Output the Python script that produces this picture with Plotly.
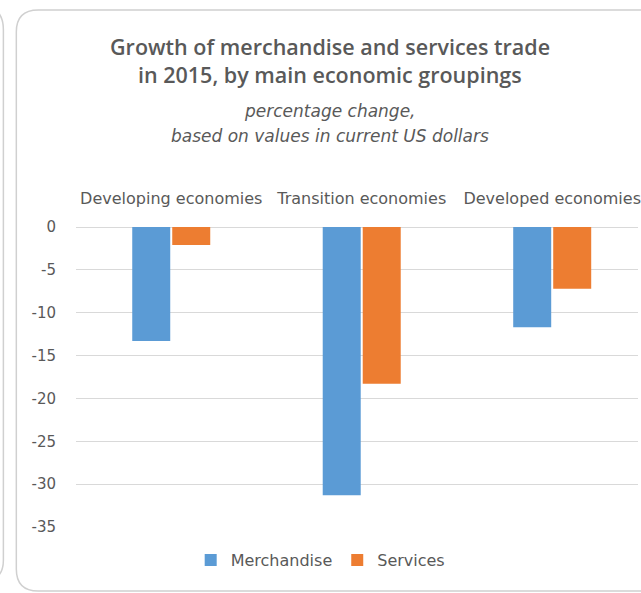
import plotly.graph_objects as go

categories = ["Developing economies", "Transition economies", "Developed economies"]
merchandise = [-13.3, -31.3, -11.7]
services = [-2.1, -18.3, -7.2]
y_ticks = [0, -5, -10, -15, -20, -25, -30, -35]

W, H = 641, 593
L, R, T, B = 76, 0, 227, 66
PW = W - L - R
PH = H - T - B


def px(x):
    return (x - L) / PW


def py(y):
    return (H - B - y) / PH


GRAY = "#595959"

fig = go.Figure()
fig.add_trace(go.Bar(name="Merchandise", x=categories, y=merchandise,
                     marker=dict(color="#5B9BD5", line=dict(width=0))))
fig.add_trace(go.Bar(name="Services", x=categories, y=services,
                     marker=dict(color="#ED7D31", line=dict(width=0))))

# panel borders
x0, y0, y1, r = px(16), py(10), py(591), 22
rx, ry = r / PW, r / PH
path = (f"M {px(700)},{y0} L {x0+rx},{y0} Q {x0},{y0} {x0},{y0-ry} "
        f"L {x0},{y1+ry} Q {x0},{y1} {x0+rx},{y1} L {px(700)},{y1}")
xl = px(3)
path2 = (f"M {px(-20)},{py(6)} Q {xl},{py(6)} {xl},{py(30)} "
         f"L {xl},{py(560)} Q {xl},{py(582)} {px(-20)},{py(582)}")
shapes = [
    dict(type="path", xref="paper", yref="paper", path=path,
         line=dict(color="#D0D0D0", width=1.5), layer="below"),
    dict(type="path", xref="paper", yref="paper", path=path2,
         line=dict(color="#D0D0D0", width=1.5), layer="below"),
]

annotations = [
    dict(text="Growth of merchandise and services trade", x=px(331), y=py(47),
         font=dict(family="Open Sans", size=21.5, color=GRAY, weight=600)),
    dict(text="in 2015, by main economic groupings", x=px(331), y=py(74),
         font=dict(family="Open Sans", size=21.5, color=GRAY, weight=600)),
    dict(text="<i>percentage change,</i>", x=px(331), y=py(111),
         font=dict(family="DejaVu Sans", size=17, color=GRAY)),
    dict(text="<i>based on values in current US dollars</i>", x=px(331), y=py(136),
         font=dict(family="DejaVu Sans", size=17, color=GRAY)),
]
for a in annotations:
    a.update(xref="paper", yref="paper", xanchor="center", yanchor="middle",
             showarrow=False)

fig.update_layout(
    width=W, height=H,
    margin=dict(l=L, r=R, t=T, b=B, pad=0),
    paper_bgcolor="white", plot_bgcolor="white",
    barmode="group", bargap=0.58, bargroupgap=0.05,
    showlegend=True,
    legend=dict(orientation="h", x=px(322), y=py(560), xanchor="center",
                yanchor="middle", font=dict(family="DejaVu Sans", size=16, color=GRAY),
                itemwidth=30, traceorder="normal"),
    shapes=shapes, annotations=annotations,
    xaxis=dict(side="top", range=[-0.5, -0.5 + PW / 191.5], showgrid=False,
               showline=False, ticks="", ticklabelstandoff=19,
               tickfont=dict(family="DejaVu Sans", size=16, color=GRAY)),
    yaxis=dict(range=[-35, 0], tickvals=y_ticks, ticktext=[str(v) for v in y_ticks],
               showgrid=True, gridcolor="#D9D9D9", gridwidth=1,
               zeroline=True, zerolinecolor="#D9D9D9", zerolinewidth=1,
               showline=False, ticks="", ticklabelstandoff=19,
               tickfont=dict(family="DejaVu Sans", size=15, color=GRAY)),
)

fig.write_html("out.html", config={"displayModeBar": False},
               post_script="document.body.style.margin='0';")
